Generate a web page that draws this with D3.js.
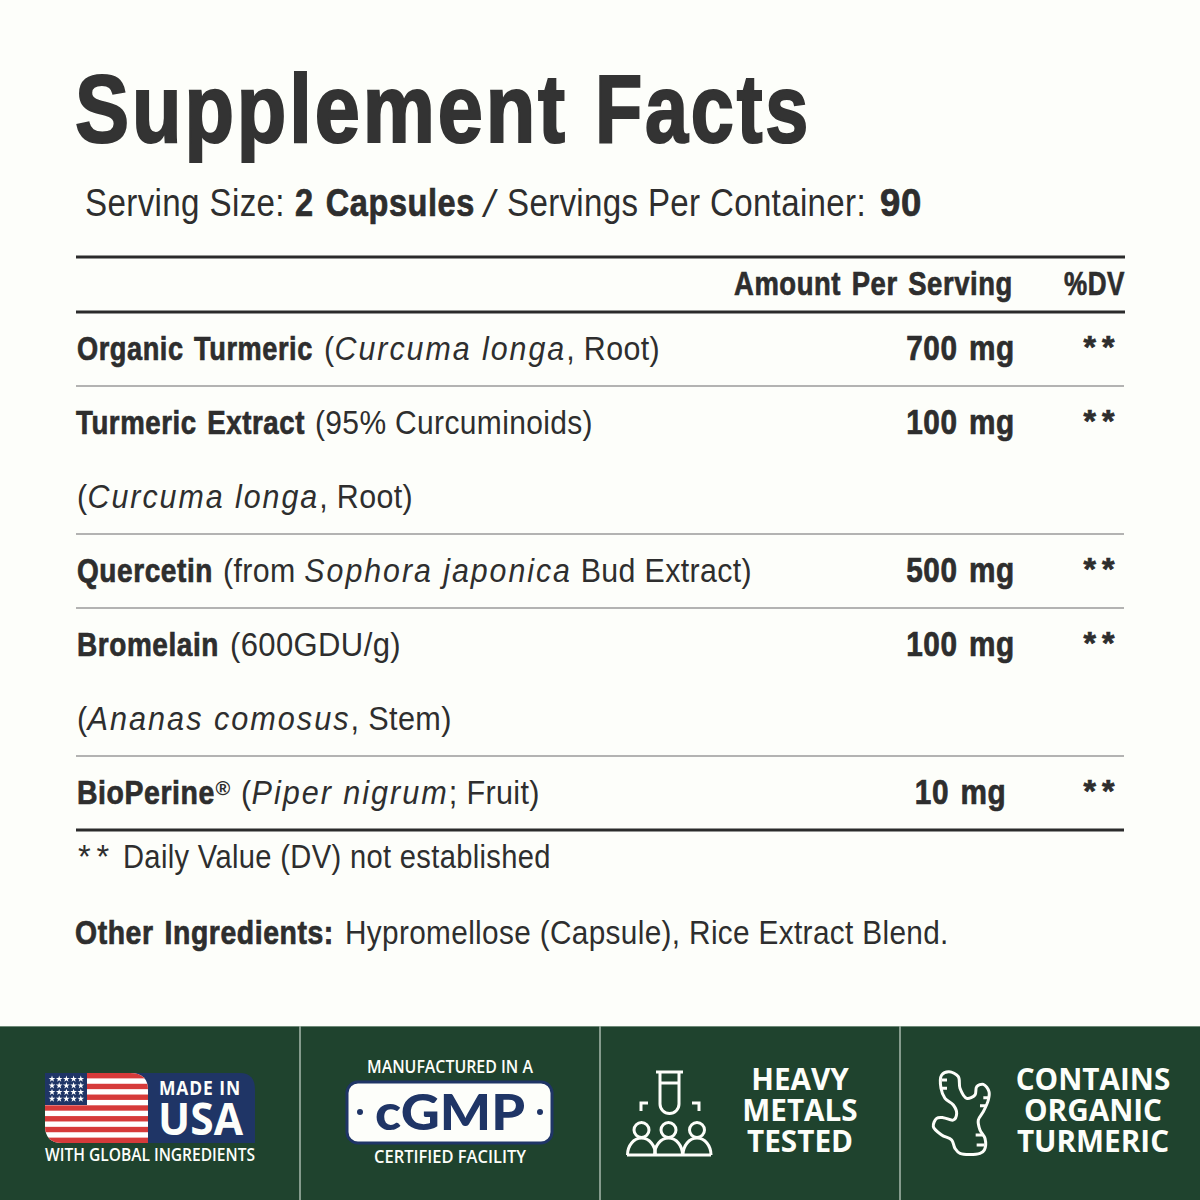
<!DOCTYPE html>
<html lang="en">
<head>
  <meta charset="UTF-8">
  <title>Supplement Facts</title>
  <script src="https://cdnjs.cloudflare.com/ajax/libs/d3/7.8.5/d3.min.js"></script>
  <style>
    html, body { margin: 0; padding: 0; background: #fdfefa; }
    svg { display: block; }
    text { font-family: "Liberation Sans Narrow", "Liberation Sans", sans-serif; fill: #2e2e2e; letter-spacing: 0.4px; }
    .bold { font-weight: 700; stroke: #2b2b2b; stroke-width: 0.7px; letter-spacing: 0.7px; word-spacing: 3px; }
    .ital { font-family: "Liberation Sans", sans-serif; font-style: italic; letter-spacing: 2.2px; }
    .badge { font-family: "Open Sans", sans-serif; font-weight: 700; fill: #fdfefa; stroke: none; letter-spacing: 0; word-spacing: 0; }
  </style>
</head>
<body>
  <script>
    // table content, _..._ marks italics
    var names = ["Organic Turmeric", "Turmeric Extract", "Quercetin", "Bromelain", "BioPerine®"];
    var details = ["(_Curcuma longa_, Root)", "(95% Curcuminoids)", "(from _Sophora japonica_ Bud Extract)", "(600GDU/g)", "(_Piper nigrum_; Fruit)"];
    var secondLines = ["", "(_Curcuma longa_, Root)", "", "(_Ananas comosus_, Stem)", ""];
    var amounts = [700, 100, 500, 100, 10];
    var dailyValues = ["**", "**", "**", "**", "**"];
    var heavyLines = ["HEAVY", "METALS", "TESTED"];
    var organicLines = ["CONTAINS", "ORGANIC", "TURMERIC"];

    // layout of the same rows, left and right ends of each piece of text
    var nameStarts = [77, 76, 77, 77, 77];
    var nameEnds = [313, 305, 213, 219, 215];
    var detailStarts = [324, 315, 223, 230, 241];
    var detailEnds = [660, 593, 752, 401, 540];
    var secondEnds = [0, 413, 0, 452, 0];

    var w = 1200;
    var h = 1200;
    var ink = "#2b2b2b";
    var green = "#1f432e";
    var navy = "#1f3566";
    var red = "#d63a3a";
    var cream = "#fdfefa";

    var svg = d3.select("body").append("svg")
      .attr("width", w)
      .attr("height", h);

    svg.append("rect").attr("width", w).attr("height", h).attr("fill", cream);

    // line number in the table -> text baseline
    var baseline = d3.scaleLinear().domain([0, 6]).range([360, 804]);
    var ruleY = function(line) { return baseline(line) - 48; };

    // squeeze a text so it runs from x0 to x1, call again after changing its style
    function refit(t, x0, x1, y) {
      var natural = t.node().getComputedTextLength();
      t.attr("transform", "translate(" + x0 + "," + y + ") scale(" + (x1 - x0) / natural + ",1)");
      return t;
    }

    function fitted(parent, str, x0, x1, y, size, cls) {
      var t = parent.append("text")
        .attr("class", cls || null)
        .attr("font-size", size);
      str.split("_").forEach(function(part, i) {
        if (part) t.append("tspan").classed("ital", i % 2 === 1).text(part);
      });
      return refit(t, x0, x1, y);
    }

    // title and serving line
    [["Supplement", 75, 568], ["Facts", 595, 811]].forEach(function(d) {
      var t = fitted(svg, d[0], d[1], d[2], 142, 97, "bold")
        .style("stroke-width", "2.2px").style("fill", "#333").style("stroke", "#333")
        .style("letter-spacing", "3.5px");
      refit(t, d[1], d[2], 142);
    });
    fitted(svg, "Serving Size:", 85, 285, 216, 38);
    fitted(svg, "2 Capsules", 295, 475, 216, 38, "bold");
    svg.append("text").attr("class", "ital").attr("font-size", 38).attr("x", 484).attr("y", 217).text("/");
    fitted(svg, "Servings Per Container:", 507, 866, 216, 38);
    fitted(svg, "90", 880, 922, 216, 38, "bold");

    // header
    fitted(svg, "Amount Per Serving", 734, 1013, 295, 34, "bold");
    fitted(svg, "%DV", 1064, 1125, 295, 34, "bold");

    // rules
    var thick = [257, 312, ruleY(7)];
    var thinLines = [ruleY(1), ruleY(3), ruleY(4), ruleY(6)];
    svg.selectAll(".thick").data(thick).enter().append("line")
      .attr("class", "thick")
      .attr("x1", 76).attr("x2", function(d, i) { return i < 2 ? 1125 : 1124; })
      .attr("y1", function(d) { return d; }).attr("y2", function(d) { return d; })
      .attr("stroke", ink).attr("stroke-width", 3);
    svg.selectAll(".thin").data(thinLines).enter().append("line")
      .attr("class", "thin")
      .attr("x1", 76).attr("x2", 1124)
      .attr("y1", function(d) { return d; }).attr("y2", function(d) { return d; })
      .attr("stroke", "#9a9a9a").attr("stroke-width", 1.5);

    // rows
    var line = 0;
    names.forEach(function(name, i) {
      var y = baseline(line);
      fitted(svg, name.replace("®", ""), nameStarts[i], nameEnds[i], y, 34, "bold");
      if (name.indexOf("®") >= 0) {
        svg.append("text")
          .attr("font-size", 20)
          .attr("font-weight", 700)
          .attr("x", nameEnds[i] + 0.5)
          .attr("y", y - 9)
          .text("®");
      }
      fitted(svg, details[i], detailStarts[i], detailEnds[i], y, 34);

      svg.append("text")
        .attr("class", "bold")
        .attr("text-anchor", "middle")
        .attr("font-size", 35)
        .attr("transform", "translate(960.5," + y + ") scale(0.85,1)")
        .text(amounts[i] + " mg");

      svg.append("text")
        .attr("class", "bold")
        .attr("text-anchor", "middle")
        .attr("font-size", 32)
        .style("letter-spacing", "6px")
        .attr("x", 1102)
        .attr("y", y - 2)
        .text(dailyValues[i]);

      line++;
      if (secondLines[i]) {
        fitted(svg, secondLines[i], 77, secondEnds[i], baseline(line), 34);
        line++;
      }
    });

    // notes
    var stars = fitted(svg, "**", 78, 115, 868, 34).style("letter-spacing", "6px");
    refit(stars, 78, 115, 868);
    fitted(svg, "Daily Value (DV) not established", 123, 551, 868, 34);
    fitted(svg, "Other Ingredients:", 75, 334, 944, 34, "bold");
    fitted(svg, "Hypromellose (Capsule), Rice Extract Blend.", 345, 949, 944, 34);

    // footer band
    svg.append("rect").attr("y", 1026).attr("width", w).attr("height", 174).attr("fill", green);
    svg.append("line").attr("x1", 0).attr("x2", w).attr("y1", 1026.5).attr("y2", 1026.5)
      .attr("stroke", "#6f8a78").attr("stroke-width", 1);
    svg.selectAll(".divider").data([300, 600, 900]).enter().append("line")
      .attr("class", "divider")
      .attr("x1", function(d) { return d; }).attr("x2", function(d) { return d; })
      .attr("y1", 1026).attr("y2", 1200)
      .attr("stroke", "#a9b9ae").attr("stroke-width", 1.5);

    // made in usa badge
    svg.append("path")
      .attr("d", "M80,1073H240Q255,1073 255,1090V1143H80Z")
      .attr("fill", navy);
    var flagShape = "M45,1073H130Q148,1073 148,1090V1143H62Q45,1143 45,1126Z";
    svg.append("clipPath").attr("id", "flagClip").append("path").attr("d", flagShape);
    var flag = svg.append("g").attr("clip-path", "url(#flagClip)");
    flag.append("rect").attr("x", 45).attr("y", 1073).attr("width", 103).attr("height", 70).attr("fill", "#fff");
    var stripeY = d3.scaleBand().domain(d3.range(13)).range([1073, 1143]);
    flag.selectAll(".stripe").data(d3.range(0, 13, 2)).enter().append("rect")
      .attr("class", "stripe")
      .attr("x", 45)
      .attr("y", function(d) { return stripeY(d); })
      .attr("width", 103)
      .attr("height", stripeY.bandwidth())
      .attr("fill", red);
    flag.append("rect").attr("x", 45).attr("y", 1073).attr("width", 42).attr("height", 32).attr("fill", navy);
    d3.range(4).forEach(function(r) {
      d3.range(5).forEach(function(c) {
        svg.append("path")
          .attr("d", d3.symbol(d3.symbolStar, 14)())
          .attr("transform", "translate(" + (52 + c * 7.2) + "," + (1079 + r * 6.6) + ")")
          .attr("fill", "#fff");
      });
    });

    function badgeText(str, x0, x1, y, size, fill, family, weight, spacing) {
      var t = fitted(svg, str, x0, x1, y, size);
      t.attr("class", "badge");
      if (family) t.style("font-family", family);
      if (weight) t.style("font-weight", weight);
      if (spacing) t.style("letter-spacing", spacing);
      if (fill) t.style("fill", fill);
      return refit(t, x0, x1, y);
    }
    badgeText("MADE IN", 159, 241, 1095, 19.5, null, null, null, "1px");
    badgeText("USA", 158, 243, 1135, 45);
    badgeText("WITH GLOBAL INGREDIENTS", 45, 255, 1161, 17.5, null, null, 600);

    // cgmp badge
    badgeText("MANUFACTURED IN A", 367, 533, 1073, 18, null, null, 600);
    svg.append("rect")
      .attr("x", 347).attr("y", 1082).attr("width", 205).attr("height", 61).attr("rx", 11)
      .attr("fill", cream).attr("stroke", navy).attr("stroke-width", 3);
    badgeText("cGMP", 375, 525, 1130, 49, navy, "Lato", 900);
    svg.selectAll(".dot").data([360, 540]).enter().append("circle")
      .attr("class", "dot")
      .attr("cx", function(d) { return d; }).attr("cy", 1112).attr("r", 3)
      .attr("fill", navy);
    badgeText("CERTIFIED FACILITY", 374, 526, 1163, 17.5, null, null, 600);

    // heavy metals icon
    var icon = svg.append("g").attr("fill", "none").attr("stroke", cream).attr("stroke-width", 3);
    icon.append("path").attr("d", "M656,1072H683M660,1072V1104A9.5,9.5 0 0 0 679,1104V1072M660,1083H679");
    icon.append("path").attr("d", "M641,1111V1103H648M692,1103H699V1111");
    [641.5, 668.5, 697].forEach(function(cx) {
      icon.append("circle").attr("cx", cx).attr("cy", 1130).attr("r", 7.5);
      icon.append("path").attr("d", "M" + (cx - 14) + ",1155A14,17 0 0 1 " + (cx + 14) + ",1155");
    });
    icon.append("path").attr("d", "M627,1155H711");

    // turmeric root icon
    var rootPoints = [[50,30],[72,20],[100,35],[105,70],[125,100],[150,90],[155,65],[175,58],[192,80],[190,105],[175,140],[160,165],[165,195],[180,220],[178,255],[165,265],[105,265],[90,250],[80,225],[50,210],[25,185],[35,160],[55,158],[85,165],[95,145],[85,120],[60,100],[48,70]];
    var rootLine = d3.line().curve(d3.curveCatmullRomClosed);
    var root = svg.append("g")
      .attr("transform", "translate(925,1065) scale(0.3333)")
      .attr("fill", "none").attr("stroke", cream).attr("stroke-width", 9);
    root.append("path").attr("d", rootLine(rootPoints));
    root.append("path").attr("d", "M50,45H66M50,70H66M175,98H190M165,122H185M152,210H175M155,240H178");

    // badge captions
    heavyLines.forEach(function(str, i) {
      svg.append("text").attr("class", "badge")
        .attr("text-anchor", "middle").attr("font-size", 29.7)
        .attr("x", 800).attr("y", 1090 + i * 31).text(str);
    });
    organicLines.forEach(function(str, i) {
      svg.append("text").attr("class", "badge")
        .attr("text-anchor", "middle").attr("font-size", 29.7)
        .attr("x", 1093).attr("y", 1090 + i * 31).text(str);
    });
  </script>
</body>
</html>
